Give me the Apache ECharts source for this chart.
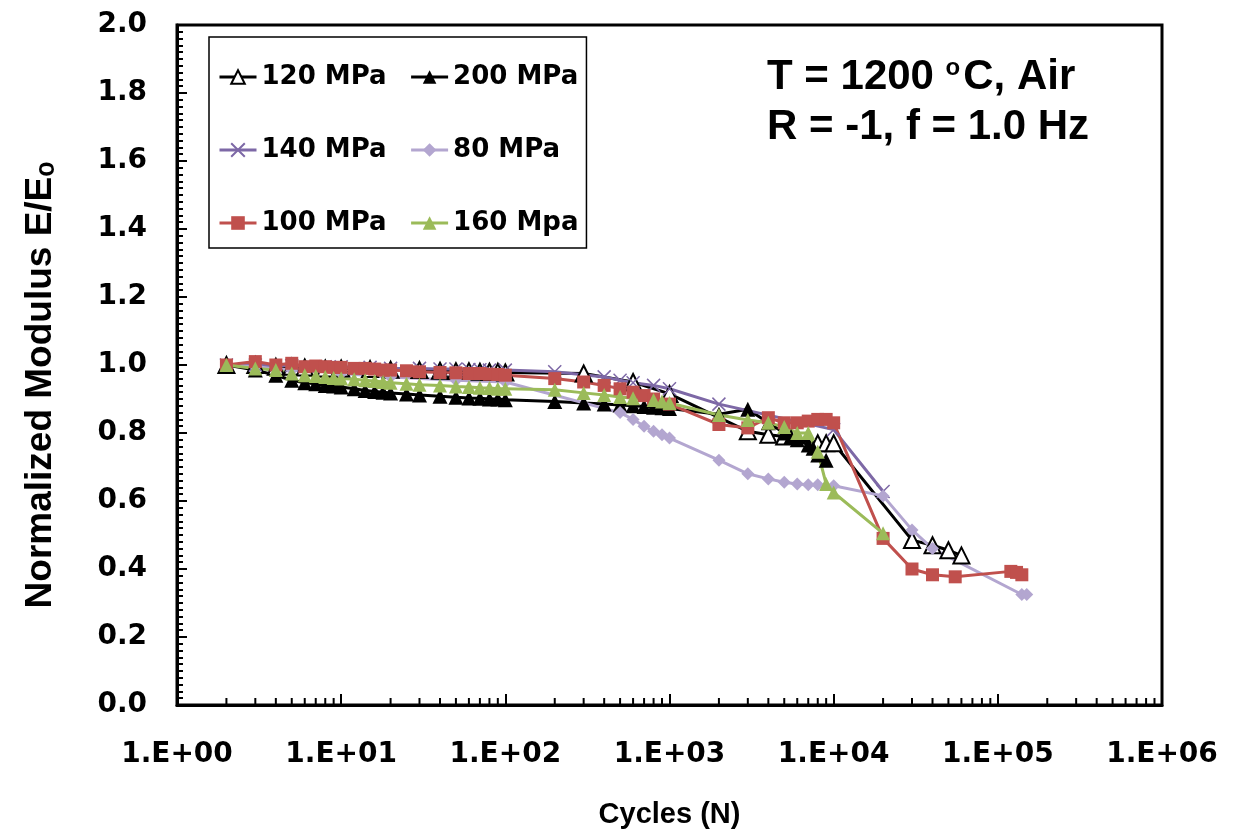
<!DOCTYPE html>
<html>
<head>
<meta charset="utf-8">
<script src="https://cdn.jsdelivr.net/npm/echarts@6.0.0/dist/echarts.min.js"></script>
<style>
  html, body { margin: 0; padding: 0; background: #fff; }
  #chart { width: 1235px; height: 838px; }
</style>
</head>
<body>
<div id="chart"></div>
<script>
// values
const cycles120 = [2, 3, 4, 5, 6, 8, 10, 15, 20, 30, 40, 50, 60, 70, 80, 90, 100, 300, 600, 1000, 3000, 4000, 5000, 8000, 9000, 10000, 30000, 40000, 50000, 60000];
const modulus120 = [1.0, 1.0, 0.995, 0.995, 0.993, 0.99, 0.99, 0.988, 0.986, 0.985, 0.983, 0.982, 0.982, 0.98, 0.98, 0.98, 0.978, 0.975, 0.95, 0.915, 0.805, 0.795, 0.79, 0.77, 0.77, 0.77, 0.485, 0.47, 0.455, 0.44];

const cycles200 = [2, 3, 4, 5, 6, 7, 8, 9, 10, 12, 14, 16, 18, 20, 25, 30, 40, 50, 60, 70, 80, 90, 100, 200, 300, 400, 500, 600, 700, 800, 900, 1000, 2000, 3000, 4000, 5000, 5500, 6000, 7000, 7500, 8000, 9000];
const modulus200 = [1.0, 0.985, 0.97, 0.955, 0.948, 0.945, 0.94, 0.938, 0.935, 0.93, 0.925, 0.922, 0.92, 0.918, 0.915, 0.912, 0.908, 0.905, 0.903, 0.902, 0.9, 0.9, 0.898, 0.893, 0.888, 0.885, 0.882, 0.88, 0.878, 0.876, 0.874, 0.872, 0.855, 0.87, 0.83, 0.8, 0.79, 0.78, 0.765, 0.755, 0.735, 0.72];

const cycles140 = [2, 3, 5, 8, 10, 15, 20, 30, 40, 50, 60, 70, 80, 100, 200, 400, 500, 600, 800, 1000, 2000, 10000, 20000];
const modulus140 = [1.0, 1.0, 0.998, 0.995, 0.995, 0.993, 0.99, 0.99, 0.988, 0.988, 0.987, 0.986, 0.985, 0.985, 0.98, 0.965, 0.955, 0.948, 0.94, 0.93, 0.885, 0.81, 0.628];

const cycles80 = [2, 3, 5, 10, 20, 50, 100, 500, 600, 700, 800, 900, 1000, 2000, 3000, 4000, 5000, 6000, 7000, 8000, 10000, 20000, 30000, 40000, 140000, 150000];
const modulus80 = [1.0, 0.995, 0.985, 0.975, 0.965, 0.955, 0.95, 0.86, 0.84, 0.82, 0.805, 0.795, 0.785, 0.72, 0.68, 0.665, 0.655, 0.65, 0.648, 0.648, 0.645, 0.615, 0.515, 0.46, 0.325, 0.325];

const cycles100 = [2, 3, 4, 5, 6, 7, 8, 9, 10, 12, 14, 16, 18, 20, 25, 30, 40, 50, 60, 70, 80, 90, 100, 200, 300, 400, 500, 600, 700, 800, 1000, 2000, 3000, 4000, 5000, 6000, 7000, 8000, 9000, 10000, 20000, 30000, 40000, 55000, 120000, 130000, 140000];
const modulus100 = [1.0, 1.01, 1.0, 1.005, 0.995, 0.997, 0.995, 0.993, 0.993, 0.99, 0.99, 0.988, 0.985, 0.985, 0.983, 0.98, 0.978, 0.977, 0.975, 0.975, 0.973, 0.972, 0.97, 0.96, 0.95, 0.94, 0.93, 0.92, 0.91, 0.9, 0.885, 0.825, 0.815, 0.845, 0.83, 0.83, 0.835, 0.84, 0.84, 0.83, 0.49, 0.4, 0.383, 0.377, 0.393, 0.39, 0.383];

const cycles160 = [2, 3, 4, 5, 6, 7, 8, 9, 10, 12, 14, 16, 18, 20, 25, 30, 40, 50, 60, 70, 80, 90, 100, 200, 300, 400, 500, 600, 800, 900, 1000, 2000, 3000, 4000, 5000, 6000, 7000, 8000, 9000, 10000, 20000];
const modulus160 = [1.0, 0.99, 0.985, 0.975, 0.97, 0.968, 0.965, 0.962, 0.96, 0.958, 0.955, 0.953, 0.95, 0.948, 0.945, 0.942, 0.94, 0.937, 0.935, 0.933, 0.932, 0.93, 0.93, 0.927, 0.918, 0.912, 0.906, 0.902, 0.897, 0.893, 0.888, 0.853, 0.838, 0.83, 0.818, 0.8, 0.8, 0.745, 0.65, 0.625, 0.505];

const legendNames = ['120 MPa', '200 MPa', '140 MPa', '80 MPa', '100 MPa', '160 Mpa'];

// log minor ticks 2..9 in each decade
const minorX = [];
for (let d = 0; d < 6; d++) {
  for (let k = 2; k <= 9; k++) minorX.push(k * Math.pow(10, d));
}

const pair = (xs, ys) => xs.map((x, i) => [x, ys[i]]);
const crossPath = 'path://M0,0L10,10M10,0L0,10';

function line(name, xs, ys, color, symbol, size, itemStyle) {
  return {
    name,
    type: 'line',
    data: pair(xs, ys),
    symbol,
    symbolSize: size,
    lineStyle: { color, width: 3 },
    itemStyle: Object.assign({ color }, itemStyle || {}),
    emphasis: { disabled: true },
    animation: false,
  };
}

const chart = echarts.init(document.getElementById('chart'), null, { renderer: 'canvas' });

chart.setOption({
  backgroundColor: '#fff',
  animation: false,
  grid: {
    left: 177, right: 73, top: 25, bottom: 133,
    show: true, borderColor: '#000', borderWidth: 3,
    outerBoundsMode: 'none',
  },
  legend: {
    data: legendNames,
    left: 209, top: 37,
    width: 362,
    padding: [15, 8, 0, 9],
    itemGap: 23,
    itemWidth: 37,
    itemHeight: 17,
    lineStyle: { width: 3 },
    borderColor: '#000',
    borderWidth: 1.5,
    backgroundColor: '#fff',
    textStyle: { fontFamily: 'DejaVu Sans', fontWeight: 'bold', fontSize: 26, color: '#000', lineHeight: 50 },
  },
  xAxis: {
    type: 'log',
    logBase: 10,
    min: 1,
    max: 1e6,
    name: 'Cycles (N)',
    nameLocation: 'middle',
    nameGap: 95,
    nameTextStyle: { fontFamily: 'Liberation Sans', fontWeight: 'bold', fontSize: 29, color: '#000' },
    axisLine: { lineStyle: { color: '#000', width: 3 } },
    axisTick: { inside: true, length: 11, lineStyle: { color: '#000', width: 2 } },
    axisLabel: {
      margin: 36,
      fontFamily: 'DejaVu Sans', fontWeight: 'bold', fontSize: 28, color: '#000',
      formatter: (v) => {
        const e = Math.round(Math.log10(v));
        return '1.E+' + (e < 10 ? '0' : '') + e;
      },
    },
    splitLine: { show: false },
  },
  yAxis: {
    type: 'value',
    min: 0,
    max: 2,
    interval: 0.2,
    name: 'Normalized Modulus E/E\u2092',
    nameLocation: 'middle',
    nameGap: 118,
    nameTextStyle: { fontFamily: 'Liberation Sans', fontWeight: 'bold', fontSize: 37, color: '#000', padding: [0, 40, 0, 0] },
    axisLine: { show: true, lineStyle: { color: '#000', width: 3 } },
    axisTick: { inside: true, length: 10, lineStyle: { color: '#000', width: 2 } },
    minorTick: { show: true, splitNumber: 10, length: 6, lineStyle: { color: '#000', width: 2 } },
    axisLabel: {
      margin: 30,
      fontFamily: 'DejaVu Sans', fontWeight: 'bold', fontSize: 28, color: '#000',
      formatter: (v) => v.toFixed(1),
    },
    splitLine: { show: false },
  },
  graphic: [
    {
      type: 'text', left: 767, top: 56, z: 100,
      style: {
        text: 'T = 1200 {s|o}C, Air',
        fontFamily: 'Liberation Sans', fontWeight: 'bold', fontSize: 42, fill: '#000',
        rich: { s: { fontFamily: 'Liberation Sans', fontWeight: 'bold', fontSize: 24, fill: '#000', verticalAlign: 'top', padding: [0, 3, 18, 0] } },
      },
    },
    {
      type: 'text', left: 767, top: 106, z: 100,
      style: { text: 'R = -1, f = 1.0 Hz', fontFamily: 'Liberation Sans', fontWeight: 'bold', fontSize: 42, fill: '#000' },
    },
  ],
  series: [
    line('120 MPa', cycles120, modulus120, '#000', 'triangle', 16, { color: '#fff', borderColor: '#000', borderWidth: 2 }),
    line('200 MPa', cycles200, modulus200, '#000', 'triangle', 15),
    line('140 MPa', cycles140, modulus140, '#7d68a6', crossPath, 13, { borderColor: '#7d68a6', borderWidth: 1.5 }),
    line('80 MPa', cycles80, modulus80, '#b3a6d0', 'diamond', 13),
    line('100 MPa', cycles100, modulus100, '#c0504d', 'rect', 13),
    line('160 Mpa', cycles160, modulus160, '#9bbb59', 'triangle', 14),
    {
      name: 'minorTicks',
      type: 'custom',
      data: minorX.map((v) => [v, 0]),
      silent: true,
      clip: false,
      z: 5,
      renderItem: (params, api) => {
        const p = api.coord([api.value(0), 0]);
        return {
          type: 'line',
          shape: { x1: p[0], y1: p[1], x2: p[0], y2: p[1] - 7 },
          style: { stroke: '#000', lineWidth: 2 },
        };
      },
    },
  ],
});
</script>
</body>
</html>
